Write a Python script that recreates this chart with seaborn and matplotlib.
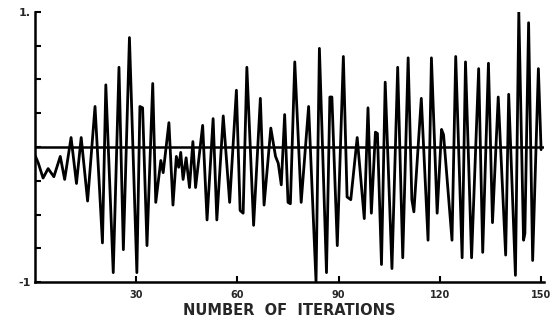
import matplotlib
matplotlib.use("Agg")
import matplotlib.pyplot as plt
import seaborn as sns
import numpy as np

# ---------------------
# Data (turning points)
# ---------------------

iterations = [
    0.0, 1.0, 2.4, 3.9, 5.6, 7.5, 8.8, 10.7, 12.3, 13.7,
    15.6, 17.8, 20.0, 21.0, 23.2, 24.9, 26.2, 28.0, 30.2, 31.1,
    31.9, 33.2, 34.9, 35.8, 37.3, 38.0, 39.7, 40.9, 41.9, 42.6,
    43.2, 43.9, 44.8, 45.8, 46.8, 47.6, 49.7, 51.0, 52.8, 53.9,
    55.8, 57.7, 59.7, 60.8, 61.7, 62.8, 64.8, 66.8, 67.9, 69.9,
    71.3, 72.1, 73.0, 74.0, 75.0, 75.7, 77.0, 78.9, 81.1, 83.3,
    84.3, 86.4, 87.4, 88.0, 89.6, 91.4, 92.5, 93.6, 95.5, 97.6,
    98.7, 99.7, 100.9, 101.5, 102.7, 103.8, 105.8, 107.5, 109.0, 110.6,
    111.7, 112.3, 114.5, 116.5, 117.5, 119.2, 120.5, 121.1, 123.6, 124.7,
    126.6, 127.6, 129.4, 131.5, 132.7, 134.4, 135.6, 137.3, 139.5, 140.4,
    142.4, 143.4, 144.8, 145.2, 146.3, 147.5, 149.2, 150.0,
]
values = [
    -0.06, -0.12, -0.23, -0.16, -0.22, -0.07, -0.24, 0.07, -0.27, 0.07,
    -0.40, 0.30, -0.71, 0.46, -0.93, 0.59, -0.76, 0.81, -0.93, 0.30,
    0.29, -0.73, 0.47, -0.41, -0.10, -0.19, 0.18, -0.43, -0.07, -0.15,
    -0.04, -0.24, -0.08, -0.30, 0.04, -0.30, 0.16, -0.54, 0.21, -0.54,
    0.23, -0.41, 0.42, -0.47, -0.49, 0.59, -0.58, 0.36, -0.43, 0.14,
    -0.07, -0.12, -0.28, 0.24, -0.41, -0.42, 0.63, -0.41, 0.30, -1.00,
    0.73, -0.93, 0.37, 0.37, -0.73, 0.67, -0.37, -0.39, 0.07, -0.53,
    0.29, -0.49, 0.11, 0.10, -0.87, 0.48, -0.90, 0.59, -0.82, 0.66,
    -0.39, -0.48, 0.36, -0.69, 0.66, -0.49, 0.13, 0.09, -0.69, 0.67,
    -0.82, 0.63, -0.82, 0.58, -0.78, 0.62, -0.56, 0.37, -0.80, 0.39,
    -0.95, 1.00, -0.69, -0.64, 0.92, -0.84, 0.58, -0.02,
]

x_ticks = [30, 60, 90, 120, 150]
y_ticks = [-1.0, -0.75, -0.5, -0.25, 0.0, 0.25, 0.5, 0.75, 1.0]
y_tick_labels = ['-1', '', '', '', '', '', '', '', '1.']

# ---------------------
# Plot
# ---------------------

sns.set_style("ticks")
plt.rcParams['font.family'] = ['DejaVu Sans']

fig = plt.figure(figsize=(5.55, 3.22), dpi=100)
ax = fig.add_axes([0.063, 0.124, 0.918, 0.839])

sns.lineplot(x=iterations, y=values, sort=False, estimator=None,
             color='black', linewidth=2.0, ax=ax)
ax.axhline(0, color='black', linewidth=1.8)

ax.set_xlim(0, 151)
ax.set_ylim(-1, 1)
ax.set_xticks(x_ticks)
ax.set_xticklabels([str(t) for t in x_ticks], fontsize=7, fontweight='bold')
ax.set_yticks(y_ticks)
ax.set_yticklabels(y_tick_labels, fontsize=8, fontweight='bold')
ax.tick_params(direction='in', length=4, width=1.5, pad=3, color='black')
ax.tick_params(axis='x', pad=6)

for side in ['top', 'right']:
    ax.spines[side].set_visible(False)
for side in ['left', 'bottom']:
    ax.spines[side].set_linewidth(1.8)
    ax.spines[side].set_color('black')

ax.set_xlabel('NUMBER  OF  ITERATIONS', fontsize=10.5, fontweight='bold', labelpad=2)
ax.set_ylabel('')

fig.savefig('out.png', dpi=100, facecolor='white')
